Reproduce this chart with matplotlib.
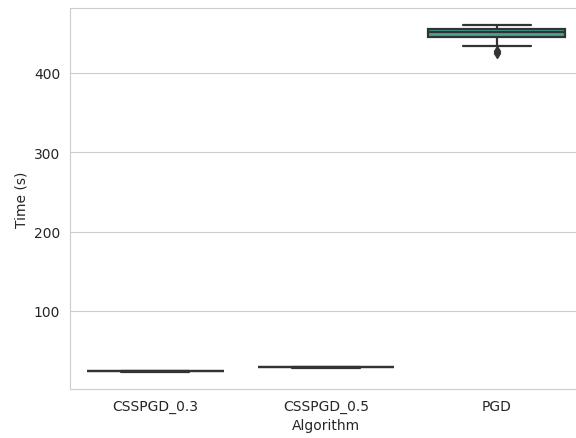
import matplotlib
matplotlib.use("Agg")
import matplotlib.pyplot as plt
import seaborn as sns
import pandas as pd

# run times per algorithm (s)
algorithms = ["CSSPGD_0.3", "CSSPGD_0.5", "PGD"]
time_csspgd_03 = [23.4, 23.6, 23.8, 23.9, 24.0, 24.1, 24.3, 24.5]
time_csspgd_05 = [28.4, 28.6, 28.8, 28.9, 29.0, 29.1, 29.3, 29.5]
time_pgd = [434, 445, 446, 447, 449, 451, 452, 453, 455, 456, 457, 458, 460, 428, 425]
box_colors = {"CSSPGD_0.3": "#3b5a8c", "CSSPGD_0.5": "#3b8c8a", "PGD": "#44a592"}

df = pd.DataFrame({
    "Algorithm": [algorithms[0]] * len(time_csspgd_03)
    + [algorithms[1]] * len(time_csspgd_05)
    + [algorithms[2]] * len(time_pgd),
    "Time (s)": time_csspgd_03 + time_csspgd_05 + time_pgd,
})

sns.set_style("whitegrid")
plt.rcParams['font.family'] = ['DejaVu Sans']

fig = plt.figure(figsize=(5.76, 4.39), dpi=100)
# axes runs past the right edge, as in the original (cropped) image
ax = fig.add_axes([70 / 576, 49 / 439, 512 / 576, 381 / 439])

sns.boxplot(data=df, x="Algorithm", y="Time (s)", order=algorithms,
            hue="Algorithm", palette=box_colors, legend=False,
            saturation=1, linecolor="#333333", linewidth=1.6,
            flierprops=dict(marker="d", markersize=5,
                            markerfacecolor="#333333", markeredgecolor="#333333"),
            ax=ax)

ax.spines["right"].set_visible(False)
ax.set_yticks([100, 200, 300, 400])
ax.tick_params(labelsize=10, colors="#262626")
ax.set_xlabel("Algorithm", fontsize=10, color="#262626")
ax.set_ylabel("Time (s)", fontsize=10, color="#262626")

fig.savefig("out.png", dpi=100)
